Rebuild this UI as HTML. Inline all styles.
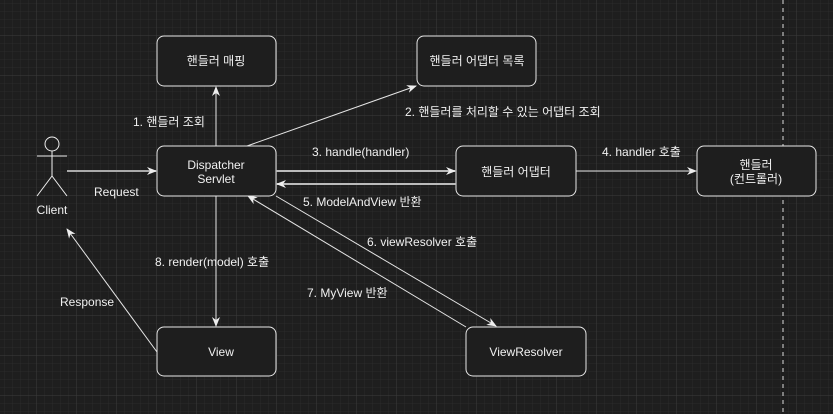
<!DOCTYPE html>
<html><head><meta charset="utf-8"><style>
html,body{margin:0;padding:0;background:#1e1e1e;}
svg{display:block;}
text{font-family:"Liberation Sans","Noto Sans CJK KR",sans-serif;font-size:12px;fill:#f0f0f0;}
</style></head><body>
<svg width="833" height="414" viewBox="0 0 833 414" xmlns="http://www.w3.org/2000/svg">
<defs>
<pattern id="minor" width="8" height="8" patternUnits="userSpaceOnUse" x="-3" y="-4">
<path d="M8 0V8M0 8H8" stroke="#2b2b2b" stroke-width="1" fill="none"/>
</pattern>
<pattern id="major" width="40" height="40" patternUnits="userSpaceOnUse" x="-3" y="-4">
<path d="M40 0V40M0 40H40" stroke="#3c3c3c" stroke-width="1" fill="none"/>
</pattern>
<marker id="a" markerWidth="10" markerHeight="10" refX="9" refY="5" orient="auto" markerUnits="userSpaceOnUse">
<path d="M0,1 L10,5 L0,9 L3,5 Z" fill="#eee"/>
</marker>
</defs>
<rect width="833" height="414" fill="#1e1e1e"/>
<rect width="833" height="414" fill="url(#minor)"/>
<rect width="833" height="414" fill="url(#major)"/>
<line x1="783" y1="0" x2="783" y2="414" stroke="#ddd" stroke-dasharray="4,4"/>

<g fill="#1e1e1e" stroke="#e8e8e8" stroke-width="1">
<rect x="157" y="36" width="119" height="50" rx="7"/>
<rect x="417" y="36" width="119" height="50" rx="7"/>
<rect x="157" y="146" width="119" height="50" rx="7"/>
<rect x="456" y="146" width="120" height="50" rx="7"/>
<rect x="697" y="146" width="119" height="50" rx="7"/>
<rect x="157" y="327" width="119" height="49" rx="7"/>
<rect x="466" y="327" width="120" height="49" rx="7"/>
</g>

<g stroke="#eee" stroke-width="1" fill="none">
<circle cx="52" cy="144" r="7"/>
<line x1="52" y1="151" x2="52" y2="176"/>
<line x1="37" y1="156" x2="67" y2="156"/>
<line x1="52" y1="176" x2="37" y2="196"/>
<line x1="52" y1="176" x2="67" y2="196"/>
</g>

<g stroke="#e6e6e6" stroke-width="1" fill="none" marker-end="url(#a)">
<line x1="67" y1="171" x2="156" y2="171" stroke="#aaa" stroke-width="2"/>
<line x1="216" y1="146" x2="216" y2="87"/>
<line x1="247" y1="146" x2="416" y2="86"/>
<line x1="276" y1="171" x2="455" y2="171" stroke="#bbb" stroke-width="2"/>
<line x1="456" y1="184" x2="277" y2="184" stroke="#bbb" stroke-width="2"/>
<line x1="576" y1="171" x2="696" y2="171"/>
<line x1="276" y1="196" x2="496" y2="326"/>
<line x1="466" y1="327" x2="248" y2="196"/>
<line x1="216" y1="196" x2="216" y2="326"/>
<line x1="157" y1="352" x2="67" y2="229"/>
</g>

<g text-anchor="middle">
<text x="216" y="65">핸들러 매핑</text>
<text x="477" y="65">핸들러 어댑터 목록</text>
<text x="216" y="169">Dispatcher</text>
<text x="216" y="183">Servlet</text>
<text x="516" y="176">핸들러 어댑터</text>
<text x="756" y="169">핸들러</text>
<text x="756" y="183">(컨트롤러)</text>
<text x="221" y="356">View</text>
<text x="526" y="356">ViewResolver</text>
<text x="52" y="214">Client</text>
</g>
<text x="94" y="196">Request</text>
<text x="133" y="126">1. 핸들러 조회</text>
<text x="405" y="116">2. 핸들러를 처리할 수 있는 어댑터 조회</text>
<text x="312" y="156">3. handle(handler)</text>
<text x="602" y="156">4. handler 호출</text>
<text x="303" y="206">5. ModelAndView 반환</text>
<text x="367" y="246">6. viewResolver 호출</text>
<text x="155" y="266">8. render(model) 호출</text>
<text x="307" y="297">7. MyView 반환</text>
<text x="60" y="306">Response</text>
</svg>
</body></html>
